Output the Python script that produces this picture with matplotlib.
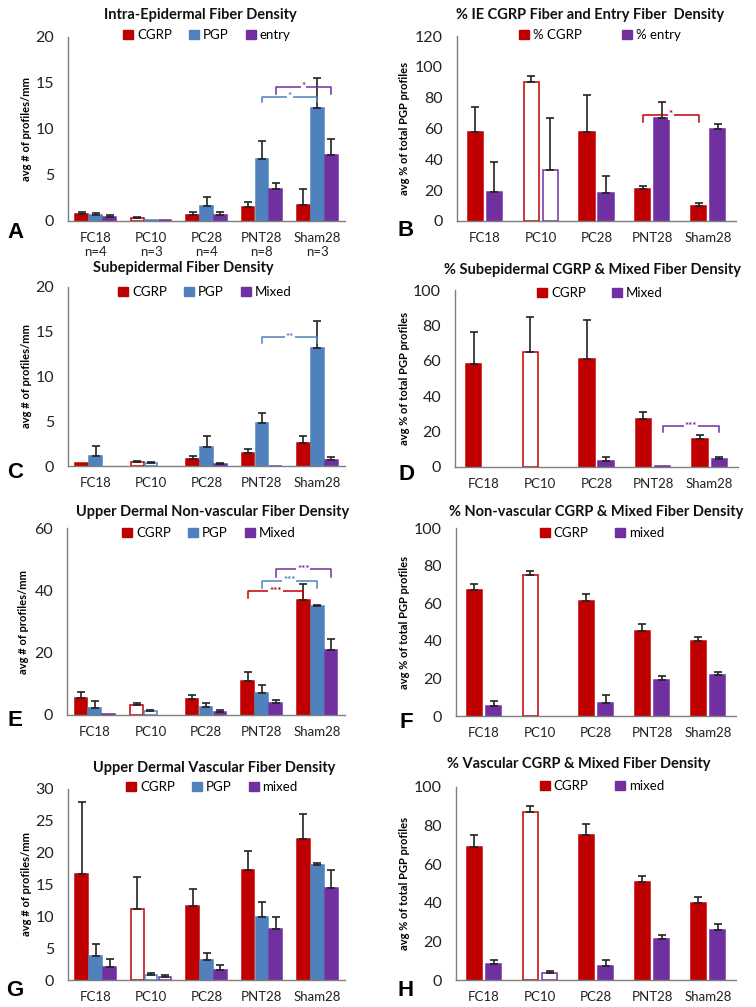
import numpy as np
import matplotlib
matplotlib.use("Agg")
import matplotlib.pyplot as plt
from matplotlib.patches import Patch

plt.rcParams["font.family"] = ["Lato", "DejaVu Sans"]

W, H = 756, 1007

# ── data ──────────────────────────────────────────────────────────────────────
groups = ["FC18", "PC10", "PC28", "PNT28", "Sham28"]
n_labels = ["n=4", "n=3", "n=4", "n=8", "n=3"]

# A: intra-epidermal density
a_cgrp = [0.75, 0.35, 0.6, 1.5, 1.75]
a_cgrp_err = [0.25, 0.05, 0.35, 0.6, 1.7]
a_pgp = [0.6, 0.1, 1.6, 6.7, 12.3]
a_pgp_err = [0.25, 0.0, 1.0, 2.0, 3.2]
a_entry = [0.4, 0.08, 0.6, 3.5, 7.2]
a_entry_err = [0.25, 0.0, 0.35, 0.6, 1.7]

# B: % IE CGRP / entry
b_cgrp = [58, 90, 58, 21, 10]
b_cgrp_err = [16, 4, 24, 2, 1.5]
b_entry = [19, 33, 18, 67, 60]
b_entry_err = [19, 34, 11, 10, 3]

# C: subepidermal density
c_cgrp = [0.3, 0.45, 0.8, 1.5, 2.6]
c_cgrp_err = [0.0, 0.1, 0.35, 0.35, 0.8]
c_pgp = [1.1, 0.35, 2.1, 4.8, 13.2]
c_pgp_err = [1.1, 0.1, 1.3, 1.1, 3.0]
c_mixed = [0.0, 0.0, 0.2, 0.05, 0.65]
c_mixed_err = [0.0, 0.0, 0.1, 0.0, 0.3]

# D: % subepidermal CGRP / mixed
d_cgrp = [58, 65, 61, 27, 16]
d_cgrp_err = [18, 20, 22, 4, 2]
d_mixed = [0, 0, 3.5, 0.4, 4.5]
d_mixed_err = [0, 0, 2, 0, 1]

# E: upper dermal non-vascular density
e_cgrp = [5.5, 3.3, 5.0, 11.0, 37.0]
e_cgrp_err = [1.8, 0.7, 1.3, 2.7, 5.0]
e_pgp = [2.3, 1.2, 2.7, 7.2, 35.0]
e_pgp_err = [2.2, 0.4, 1.0, 2.5, 0.3]
e_mixed = [0.4, 0.0, 1.0, 4.0, 21.0]
e_mixed_err = [0.0, 0.0, 0.6, 0.7, 3.5]

# F: % non-vascular CGRP / mixed
f_cgrp = [67, 75, 61, 45, 40]
f_cgrp_err = [3, 2, 4, 4, 2]
f_mixed = [5.5, 0, 7, 19, 22]
f_mixed_err = [2.5, 0, 4, 2.5, 1.5]

# G: upper dermal vascular density
g_cgrp = [16.7, 11.2, 11.6, 17.2, 22.1]
g_cgrp_err = [11.3, 5.0, 2.7, 3.0, 3.9]
g_pgp = [3.7, 0.8, 3.1, 9.9, 18.0]
g_pgp_err = [1.9, 0.3, 1.1, 2.4, 0.4]
g_mixed = [2.0, 0.5, 1.6, 8.0, 14.4]
g_mixed_err = [1.3, 0.3, 0.8, 1.9, 2.8]

# H: % vascular CGRP / mixed
h_cgrp = [69, 87, 75, 51, 40]
h_cgrp_err = [6, 3, 6, 3, 3]
h_mixed = [8.5, 3.5, 7, 21.5, 26]
h_mixed_err = [2, 1, 3.5, 2, 3]

RED, BLUE, PURPLE = "#C00000", "#4F81BD", "#7030A0"
HOLLOW = 1  # PC10 drawn as open bars


def px_axes(fig, l, t, r, b):
    return fig.add_axes([l / W, 1 - b / H, (r - l) / W, (b - t) / H])


def panel(fig, rect, title, title_xy, series, colors, names, ymax, ystep,
          ylabel, ylabel_x, letter, letter_xy, leg_xy, xlabels,
          brackets=(), colspacing=1.6):
    ax = px_axes(fig, *rect)
    x = np.arange(len(groups))
    k = len(series)
    if k == 3:
        width, offs = 0.23, [-0.25, 0, 0.25]
    else:
        width, offs = 0.27, [-0.17, 0.17]
    for (vals, errs), col, off in zip(series, colors, offs):
        vals = np.array(vals, dtype=float)
        errs = np.array(errs, dtype=float)
        fc = [col] * len(vals)
        fc[HOLLOW] = "white"
        nz = vals > 0
        ax.bar((x + off)[nz], vals[nz], width, color=np.array(fc)[nz],
               edgecolor=col, linewidth=1.1, zorder=2)
        m = errs > 0
        ax.errorbar((x + off)[m], vals[m],
                    yerr=[np.zeros(m.sum()), errs[m]], fmt="none",
                    ecolor="#222222", elinewidth=1.2, capsize=3, capthick=1.2, zorder=3)
    for si, c0, c1, ytop, ylow, stars in brackets:
        col = colors[si]
        xs = [c0 + offs[si], c0 + offs[si], c1 + offs[si], c1 + offs[si]]
        ax.plot(xs, [ylow, ytop, ytop, ylow], color=col, lw=1.1, zorder=4, clip_on=False)
        ax.text((xs[0] + xs[-1]) / 2, ytop, stars, color=col, ha="center", va="center",
                fontsize=7, fontweight="bold", zorder=5,
                bbox=dict(facecolor="white", edgecolor="none", pad=0.6))
    ax.set_xlim(-0.5, len(groups) - 0.5)
    ax.set_ylim(0, ymax)
    ax.set_yticks(np.arange(0, ymax + 0.01, ystep))
    ax.tick_params(axis="y", length=0, labelsize=11.5, pad=10, labelcolor="#222222")
    ax.set_xticks(x)
    ax.set_xticklabels(xlabels, fontsize=9.5, linespacing=1.2)
    ax.tick_params(axis="x", length=0, pad=8, labelcolor="#222222")
    for s in ("top", "right"):
        ax.spines[s].set_visible(False)
    for s in ("left", "bottom"):
        ax.spines[s].set_color("#7f7f7f")
        ax.spines[s].set_linewidth(1.0)
    fig.text(title_xy[0] / W, 1 - title_xy[1] / H, title, ha="center", va="center",
             fontsize=10.5, fontweight="bold", color="#111111")
    fig.text(ylabel_x / W, 1 - (rect[1] + rect[3]) / 2 / H, ylabel, rotation=90,
             ha="center", va="center", fontsize=8, fontweight="bold")
    fig.text(letter_xy[0] / W, 1 - letter_xy[1] / H, letter, ha="center", va="center",
             fontsize=16, fontweight="bold", family="Liberation Sans")
    handles = [Patch(facecolor=c, edgecolor=c) for c in colors]
    fig.legend(handles, names, loc="center", ncol=k, frameon=False,
               bbox_to_anchor=(leg_xy[0] / W, 1 - leg_xy[1] / H),
               handlelength=0.75, handleheight=0.75, handletextpad=0.3,
               columnspacing=colspacing, fontsize=9.5)
    return ax


fig = plt.figure(figsize=(W / 100, H / 100), dpi=100)

panel(fig, (68, 37, 345, 221), "Intra-Epidermal Fiber Density", (200, 15),
      [(a_cgrp, a_cgrp_err), (a_pgp, a_pgp_err), (a_entry, a_entry_err)],
      [RED, BLUE, PURPLE], ["CGRP", "PGP", "entry"], 20, 5,
      "avg # of profiles/mm", 27, "A", (15, 232), (207, 35),
      [f"{g}\n{n}" for g, n in zip(groups, n_labels)],
      brackets=[(1, 3, 4, 13.5, 12.9, "*"), (2, 3, 4, 14.6, 13.8, "*")],
      colspacing=1.3)

panel(fig, (457, 36, 736, 221), "% IE CGRP Fiber and Entry Fiber  Density", (590, 15),
      [(b_cgrp, b_cgrp_err), (b_entry, b_entry_err)],
      [RED, PURPLE], ["% CGRP", "% entry"], 120, 20,
      "avg % of total PGP profiles", 405, "B", (406, 230), (600, 35), groups,
      brackets=[(0, 3, 4, 69, 64, "*")], colspacing=3.0)

panel(fig, (68, 287, 345, 466), "Subepidermal Fiber Density", (183, 268),
      [(c_cgrp, c_cgrp_err), (c_pgp, c_pgp_err), (c_mixed, c_mixed_err)],
      [RED, BLUE, PURPLE], ["CGRP", "PGP", "Mixed"], 20, 5,
      "avg # of profiles/mm", 27, "C", (15, 472), (205, 292), groups,
      brackets=[(1, 3, 4, 14.4, 13.7, "**")], colspacing=1.3)

panel(fig, (455, 290, 738, 467), "% Subepidermal CGRP & Mixed Fiber Density", (592, 270),
      [(d_cgrp, d_cgrp_err), (d_mixed, d_mixed_err)],
      [RED, PURPLE], ["CGRP", "Mixed"], 100, 20,
      "avg % of total PGP profiles", 405, "D", (406, 475), (600, 293), groups,
      brackets=[(1, 3, 4, 23, 20, "***")], colspacing=2.0)

panel(fig, (67, 528, 345, 715), "Upper Dermal Non-vascular Fiber Density", (213, 512),
      [(e_cgrp, e_cgrp_err), (e_pgp, e_pgp_err), (e_mixed, e_mixed_err)],
      [RED, BLUE, PURPLE], ["CGRP", "PGP", "Mixed"], 60, 20,
      "avg # of profiles/mm", 24, "E", (15, 721), (209, 533), groups,
      brackets=[(0, 3, 4, 39.7, 37.5, "***"), (1, 3, 4, 43.0, 40.7, "***"),
                (2, 3, 4, 46.8, 44.2, "***")], colspacing=1.3)

panel(fig, (456, 528, 736, 716), "% Non-vascular CGRP & Mixed Fiber Density", (596, 512),
      [(f_cgrp, f_cgrp_err), (f_mixed, f_mixed_err)],
      [RED, PURPLE], ["CGRP", "mixed"], 100, 20,
      "avg % of total PGP profiles", 405, "F", (406, 723), (602, 533), groups,
      colspacing=2.0)

panel(fig, (68, 789, 345, 980), "Upper Dermal Vascular Fiber Density", (214, 768),
      [(g_cgrp, g_cgrp_err), (g_pgp, g_pgp_err), (g_mixed, g_mixed_err)],
      [RED, BLUE, PURPLE], ["CGRP", "PGP", "mixed"], 30, 5,
      "avg # of profiles/mm", 27, "G", (15, 990), (212, 787), groups,
      colspacing=1.3)

panel(fig, (456, 787, 736, 980), "% Vascular CGRP & Mixed Fiber Density", (579, 764),
      [(h_cgrp, h_cgrp_err), (h_mixed, h_mixed_err)],
      [RED, PURPLE], ["CGRP", "mixed"], 100, 20,
      "avg % of total PGP profiles", 405, "H", (406, 990), (602, 786), groups,
      colspacing=2.0)

fig.savefig("out.png", dpi=100)
